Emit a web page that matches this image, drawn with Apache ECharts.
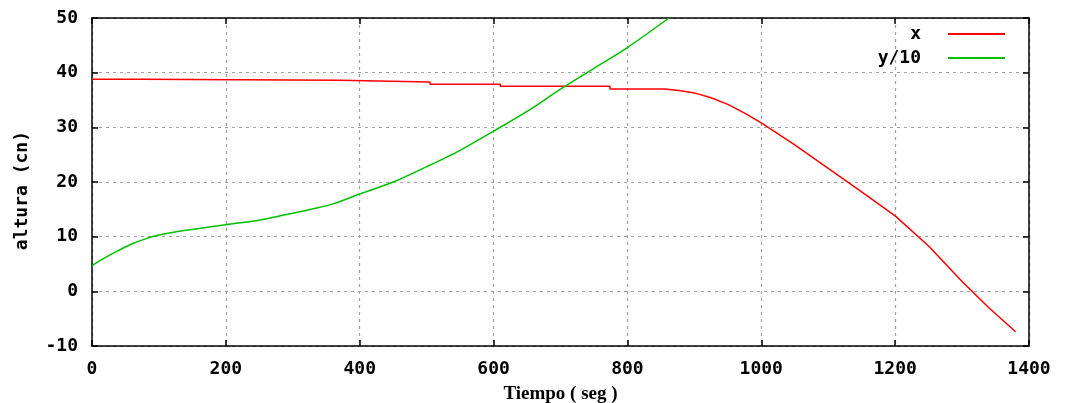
<!DOCTYPE html>
<html><head><meta charset="utf-8">
<script src="https://cdn.jsdelivr.net/npm/echarts@6/dist/echarts.min.js"></script>
<style>html,body{margin:0;padding:0;background:#fff}#c{width:1066px;height:403px}</style>
</head><body><div id="c"></div>
<script>
const xTime = [0,76,76,370,370,505,505,610,610,774,774,856,856,880,900,925,950,975,1000,1050,1100,1150,1200,1250,1300,1340,1380];
const xVals = [38.8,38.8,38.6,38.6,38.3,38.3,37.9,37.9,37.5,37.5,37.0,37.0,36.8,36.7,36.3,35.4,34.2,32.6,30.8,26.8,22.5,18.2,13.8,8.3,1.8,-3.0,-7.4];
const yTime = [0,20,40,60,80,100,130,160,200,250,280,320,360,400,450,500,550,600,650,700,750,800,862];
const yVals = [4.7,6.2,7.5,8.7,9.6,10.3,11.0,11.5,12.2,13.0,13.8,14.8,16.0,17.8,20.0,22.8,25.8,29.3,32.9,37.0,40.8,44.6,50.0];
const seriesNames = ['x','y/10'];
const yAxisName = 'altura (cn)';
const xAxisName = 'Tiempo ( seg )';

const chart = echarts.init(document.getElementById('c'));
const tickFont = {fontFamily:'DejaVu Sans Mono', fontWeight:'bold', fontSize:18, color:'#000', formatter:v=>String(v)};
const gridLine = {show:true, lineStyle:{color:'#a0a0a0', type:[3,4], width:1.2}};
const axisLine = {show:true, onZero:false, lineStyle:{color:'#000', width:1.5}};
const tick = {show:true, inside:true, length:6, lineStyle:{color:'#000', width:1.5}};
function legend(name, top){
  return {data:[name], right:61, top:top, orient:'vertical', align:'right', itemWidth:57, itemHeight:2,
    icon:'rect', itemGap:0, padding:0,
    textStyle:{fontFamily:'DejaVu Sans Mono', fontWeight:'bold', fontSize:18, color:'#000', padding:[0,22,0,0]}};
}
chart.setOption({
  animation:false,
  grid:{left:92, right:37, top:18, bottom:57, containLabel:false, outerBoundsMode:'none'},
  legend:[legend(seriesNames[0], 25), legend(seriesNames[1], 49)],
  xAxis:[
    {type:'value', min:0, max:1400, interval:200, position:'bottom',
     axisLine:axisLine, axisTick:tick,
     axisLabel:Object.assign({margin:14}, tickFont), splitLine:gridLine,
     name:xAxisName, nameLocation:'middle', nameGap:39,
     nameTextStyle:{fontFamily:'Liberation Serif', fontWeight:'bold', fontSize:19, color:'#000'}},
    {type:'value', min:0, max:1400, interval:200, position:'top',
     axisLine:axisLine, axisTick:tick, axisLabel:{show:false}, splitLine:{show:false}}
  ],
  yAxis:[
    {type:'value', min:-10, max:50, interval:10, position:'left',
     axisLine:axisLine, axisTick:tick,
     axisLabel:Object.assign({margin:14}, tickFont), splitLine:gridLine},
    {type:'value', min:-10, max:50, interval:10, position:'right',
     axisLine:axisLine, axisTick:tick, axisLabel:{show:false}, splitLine:{show:false}}
  ],
  graphic:[{type:'text', left:13, top:131, rotation:Math.PI/2,
    style:{text:yAxisName, fontFamily:'DejaVu Sans Mono', fontWeight:'bold', fontSize:18, fill:'#000'}}],
  series:[
    {name:seriesNames[0], type:'line', data:xTime.map((t,i)=>[t,xVals[i]]), showSymbol:false, symbol:'none',
     lineStyle:{color:'#ff0000', width:1.5}, itemStyle:{color:'#ff0000'}, clip:true},
    {name:seriesNames[1], type:'line', data:yTime.map((t,i)=>[t,yVals[i]]), showSymbol:false, symbol:'none', smooth:0.3,
     lineStyle:{color:'#00c000', width:1.5}, itemStyle:{color:'#00c000'}, clip:true}
  ]
});
</script></body></html>
